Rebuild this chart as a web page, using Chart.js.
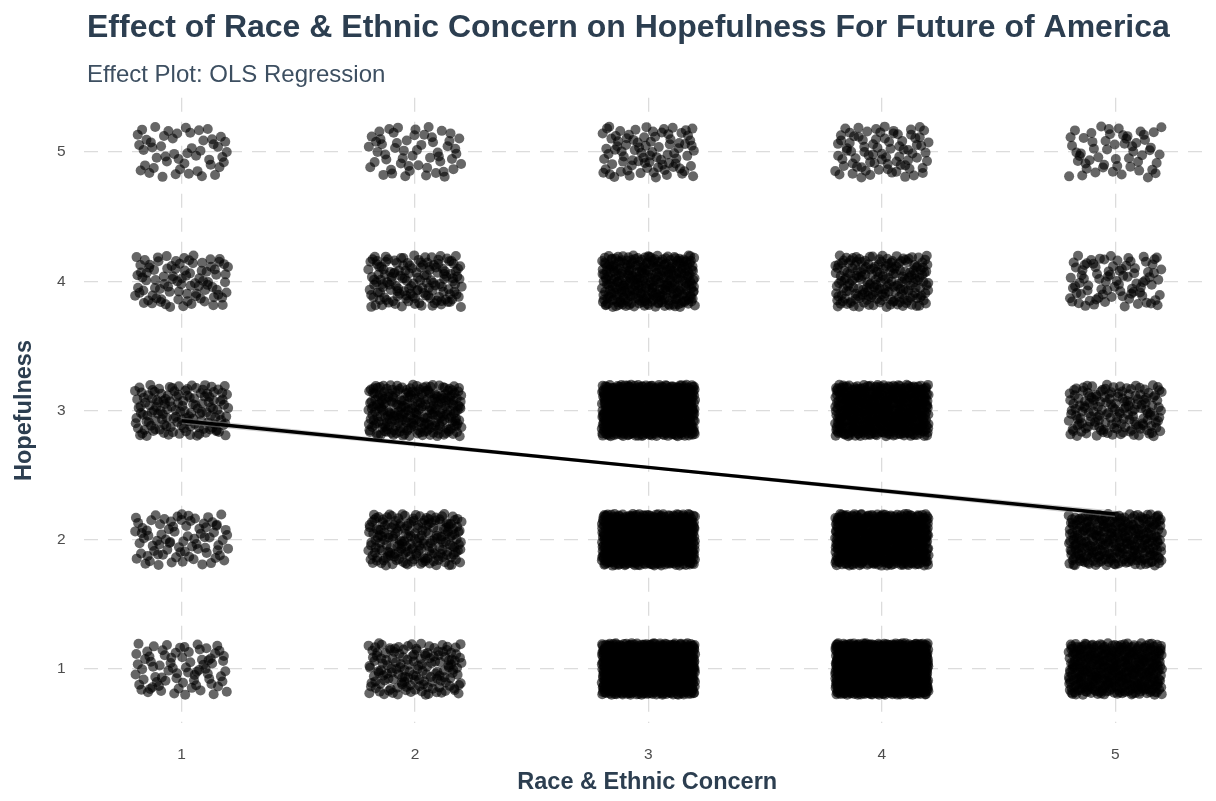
<!DOCTYPE html>
<html><head><meta charset="utf-8">
<script src="https://cdn.jsdelivr.net/npm/chart.js@4.4.1/dist/chart.umd.min.js"></script>
<style>html,body{margin:0;padding:0;background:#fff;}#wrap{width:1216px;height:801px;position:relative;}</style>
</head><body><div id="wrap"><canvas id="c"></canvas></div>
<script>
// ---- data ----
const concernLevels = [1, 2, 3, 4, 5];          // x categories (Race & Ethnic Concern)
const hopeLevels = [1, 2, 3, 4, 5];             // y categories (Hopefulness)
// estimated number of respondents per hopefulness level (1..5) for each concern level
const countsConcern1 = [75, 80, 140, 90, 50];
const countsConcern2 = [150, 200, 260, 150, 55];
const countsConcern3 = [900, 700, 700, 330, 85];
const countsConcern4 = [1000, 650, 550, 200, 80];
const countsConcern5 = [420, 300, 160, 85, 55];
// OLS fit line and its confidence band
const fitX = [1, 3, 5];
const fitY = [2.92, 2.56, 2.20];
const fitLower = [2.895, 2.55, 2.175];
const fitUpper = [2.945, 2.57, 2.225];
const xTickLabels = ['1', '2', '3', '4', '5'];
const yTickLabels = ['1', '2', '3', '4', '5'];

// ---- build the jittered point cloud (display jitter, like geom_jitter) ----
const countsByConcern = [countsConcern1, countsConcern2, countsConcern3, countsConcern4, countsConcern5];
function halton(i, b) { let f = 1, r = 0; while (i > 0) { f /= b; r += f * (i % b); i = Math.floor(i / b); } return r; }
const JIT = 0.2;
const points = [];
concernLevels.forEach((cx, ci) => {
  hopeLevels.forEach((hy, hi) => {
    const n = countsByConcern[ci][hi];
    const base = (ci * 5 + hi) * 7919 + 11;
    for (let k = 0; k < n; k++) {
      const idx = base + k;
      points.push({ x: cx + (halton(idx, 2) * 2 - 1) * JIT, y: hy + (halton(idx, 3) * 2 - 1) * JIT });
    }
  });
});
const lineData = fitX.map((x, i) => ({ x, y: fitY[i] }));
const lowData = fitX.map((x, i) => ({ x, y: fitLower[i] }));
const upData = fitX.map((x, i) => ({ x, y: fitUpper[i] }));

const FONT = '"Liberation Sans", Arial, sans-serif';
const TITLE_COLOR = '#2c3e50';
const headerPlugin = {
  id: 'header',
  afterDraw(chart) {
    const ctx = chart.ctx;
    ctx.save();
    ctx.fillStyle = TITLE_COLOR;
    ctx.textBaseline = 'alphabetic';
    ctx.textAlign = 'left';
    ctx.font = 'bold 32px ' + FONT;
    ctx.fillText('Effect of Race & Ethnic Concern on Hopefulness For Future of America', 87, 36.5);
    ctx.fillStyle = '#3d4f61';
    ctx.font = '24px ' + FONT;
    ctx.fillText('Effect Plot: OLS Regression', 87, 81.5);
    ctx.restore();
  }
};

const gridCommon = { color: '#dcdcdc', lineWidth: 1.3, drawTicks: false };
new Chart(document.getElementById('c'), {
  type: 'scatter',
  data: {
    datasets: [
      { type: 'line', data: lineData, borderColor: '#000', borderWidth: 3.5, pointRadius: 0, fill: false, order: 0 },
      { type: 'line', data: upData, borderColor: 'rgba(0,0,0,0)', borderWidth: 0, pointRadius: 0, fill: '+1', backgroundColor: 'rgba(150,150,150,0.45)', order: 1 },
      { type: 'line', data: lowData, borderColor: 'rgba(0,0,0,0)', borderWidth: 0, pointRadius: 0, fill: false, order: 1 },
      { data: points, backgroundColor: 'rgba(0,0,0,0.6)', borderWidth: 0, pointRadius: 5, order: 2 }
    ]
  },
  options: {
    responsive: true, maintainAspectRatio: false, animation: false, events: [],
    layout: { padding: { top: 97.7, left: 0, right: 0, bottom: 0 } },
    plugins: { legend: { display: false }, tooltip: { enabled: false }, title: { display: false } },
    scales: {
      x: {
        type: 'linear', min: 0.58, max: 5.41,
        afterBuildTicks: s => { s.ticks = concernLevels.map(v => ({ value: v })); },
        afterFit: s => { s.height = 801 - 723.3; },
        ticks: { callback: (v) => xTickLabels[concernLevels.indexOf(v)] ?? '', color: '#4d4d4d', font: { size: 15.5, family: FONT }, padding: 22, maxRotation: 0 },
        grid: gridCommon, border: { display: false, dash: [14, 10] },
        title: { display: true, text: 'Race & Ethnic Concern', color: TITLE_COLOR, font: { size: 23.5, weight: 'bold', family: FONT }, padding: { top: 0, bottom: 4 } }
      },
      y: {
        type: 'linear', min: 0.58, max: 5.42,
        afterBuildTicks: s => { s.ticks = hopeLevels.map(v => ({ value: v })); },
        afterFit: s => { s.width = 83.5; },
        ticks: { callback: (v) => yTickLabels[hopeLevels.indexOf(v)] ?? '', color: '#4d4d4d', font: { size: 15.5, family: FONT }, padding: 18 },
        grid: gridCommon, border: { display: false, dash: [14, 10] },
        title: { display: true, text: 'Hopefulness', color: TITLE_COLOR, font: { size: 23.5, weight: 'bold', family: FONT }, padding: { top: 10, bottom: 0 } }
      }
    }
  },
  plugins: [headerPlugin]
});
</script></body></html>
